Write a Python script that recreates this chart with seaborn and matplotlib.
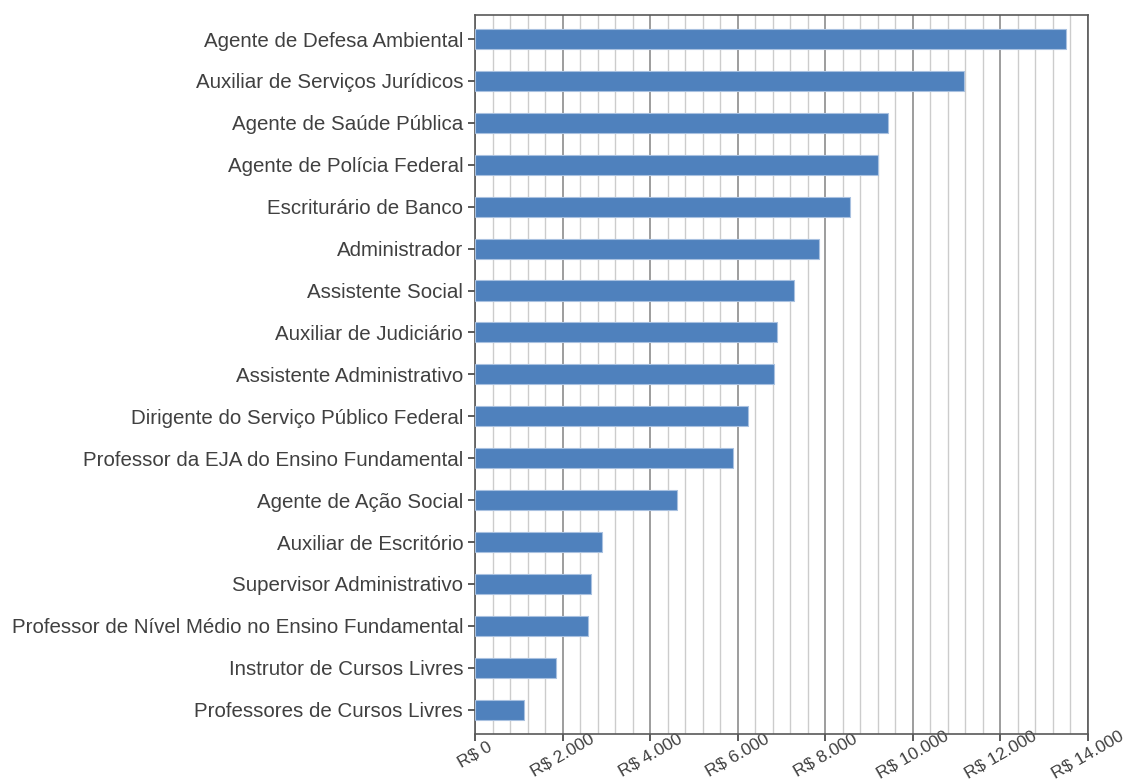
import matplotlib
matplotlib.use('Agg')
import matplotlib.pyplot as plt
import seaborn as sns
from matplotlib.ticker import MultipleLocator, FuncFormatter

cargos = [
    'Agente de Defesa Ambiental',
    'Auxiliar de Serviços Jurídicos',
    'Agente de Saúde Pública',
    'Agente de Polícia Federal',
    'Escriturário de Banco',
    'Administrador',
    'Assistente Social',
    'Auxiliar de Judiciário',
    'Assistente Administrativo',
    'Dirigente do Serviço Público Federal',
    'Professor da EJA do Ensino Fundamental',
    'Agente de Ação Social',
    'Auxiliar de Escritório',
    'Supervisor Administrativo',
    'Professor de Nível Médio no Ensino Fundamental',
    'Instrutor de Cursos Livres',
    'Professores de Cursos Livres',
]
salarios = [13500, 11170, 9430, 9200, 8570, 7860, 7290, 6890, 6830,
            6240, 5890, 4620, 2900, 2640, 2570, 1840, 1120]

sns.set_style('white')
plt.rcParams['font.family'] = ['Liberation Sans', 'DejaVu Sans']
text_color = '#404040'

fig = plt.figure(figsize=(11.32, 7.82), dpi=100)
ax = fig.add_axes([0.4196, 0.0614, 0.5415, 0.9198])

sns.barplot(x=salarios, y=cargos, orient='h', color='#4F81BD', saturation=1,
            width=0.48, edgecolor='#a9c1e0', linewidth=0.8, ax=ax, zorder=3)

ax.set_xlim(0, 14000)
ax.set_ylim(16.58, -0.58)
ax.xaxis.set_major_locator(MultipleLocator(2000))
ax.xaxis.set_minor_locator(MultipleLocator(400))
ax.xaxis.set_major_formatter(FuncFormatter(
    lambda v, p: 'R$ ' + f'{int(v):,}'.replace(',', '.')))

ax.grid(False)
ax.grid(axis='x', which='major', color='#8c8c8c', linewidth=1.2, zorder=0)
ax.grid(axis='x', which='minor', color='#cccccc', linewidth=1.0, zorder=0)
ax.set_axisbelow(True)

for s in ax.spines.values():
    s.set_visible(True)
    s.set_color('#595959')
    s.set_linewidth(1.2)

ax.tick_params(axis='x', which='major', direction='out', length=5, width=1.2,
               color='#404040', labelsize=12.5, labelcolor=text_color,
               bottom=True, pad=10)
ax.tick_params(axis='x', which='minor', length=0)
ax.tick_params(axis='y', direction='out', length=5, width=1.2, color='#404040',
               labelsize=14.8, labelcolor=text_color, left=True)
plt.setp(ax.get_xticklabels(), rotation=30, ha='center', va='center',
         rotation_mode='anchor')

ax.set_xlabel('')
ax.set_ylabel('')

fig.savefig('out.png', dpi=100)
